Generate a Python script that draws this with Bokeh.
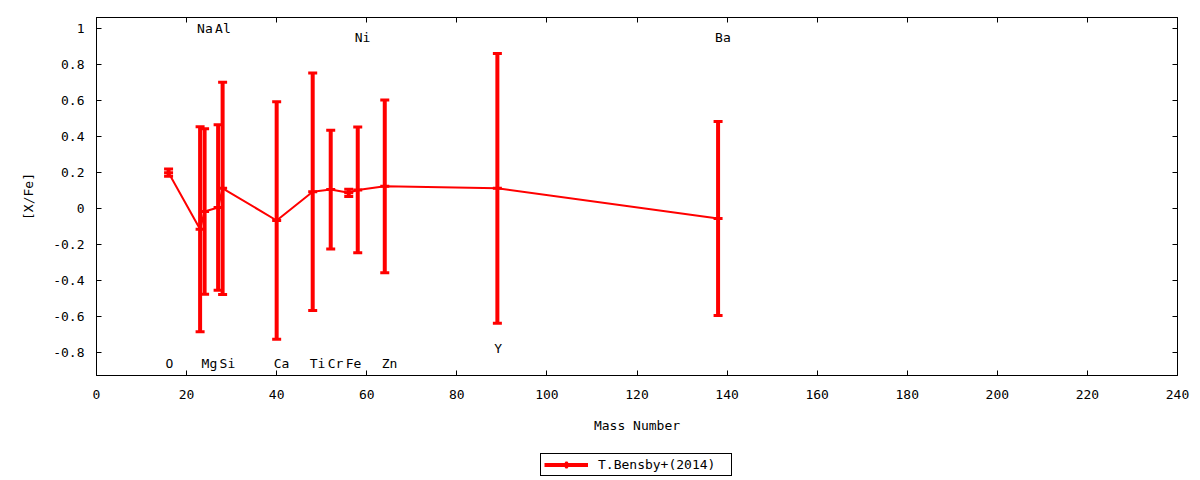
import math
from bokeh.plotting import figure
from bokeh.layouts import column
from bokeh.models import (Range1d, LinearAxis, FixedTicker, CustomJSTickFormatter,
                          Legend, LegendItem, ColumnDataSource)
from bokeh.core.properties import value
from bokeh.embed import file_html
from bokeh.resources import INLINE

# ---- data ----
elements = ["O", "Na", "Mg", "Al", "Si", "Ca", "Ti", "Cr", "Fe", "Ni", "Zn", "Y", "Ba"]
mass_number = [16, 23, 24, 27, 28, 40, 48, 52, 56, 58, 64, 89, 138]
x_fe = [0.20, -0.115, -0.016, 0.006, 0.113, -0.066, 0.094, 0.106, 0.088, 0.104, 0.124, 0.113, -0.055]
x_fe_err = [0.02, 0.57, 0.46, 0.46, 0.59, 0.66, 0.66, 0.33, 0.02, 0.35, 0.48, 0.75, 0.54]
label_y = [-0.86, 1.0, -0.86, 1.0, -0.86, -0.86, -0.86, -0.86, -0.86, 0.95, -0.86, -0.78, 0.95]
x_ticks = [0, 20, 40, 60, 80, 100, 120, 140, 160, 180, 200, 220, 240]
y_ticks = [-0.8, -0.6, -0.4, -0.2, 0, 0.2, 0.4, 0.6, 0.8, 1.0]
series_name = "T.Bensby+(2014)"

FONT = "DejaVu Sans Mono"
FS = "13px"
RED = "#ff0000"

lower = [v - e for v, e in zip(x_fe, x_fe_err)]
upper = [v + e for v, e in zip(x_fe, x_fe_err)]
src = ColumnDataSource(dict(x=mass_number, y=x_fe, lo=lower, hi=upper))
lab = ColumnDataSource(dict(x=mass_number, y=label_y, t=elements))

p = figure(width=1192, height=435, output_backend="svg", toolbar_location=None,
           x_range=Range1d(0, 240), y_range=Range1d(-0.928, 1.063),
           frame_width=1081, frame_height=358,
           min_border_left=96, min_border_top=17, min_border_right=15, min_border_bottom=60)
p.xgrid.visible = False
p.ygrid.visible = False
p.outline_line_color = "black"
p.outline_line_width = 1
p.outline_line_alpha = 1.0
p.background_fill_color = "white"
p.border_fill_color = "white"

fmt_y = CustomJSTickFormatter(code="return String(Number(tick.toFixed(1)));")
fmt_blank = CustomJSTickFormatter(code="return '';")

def style_axis(ax, ticks):
    ax.ticker = FixedTicker(ticks=ticks)
    ax.major_tick_in = 5
    ax.major_tick_out = 0
    ax.minor_tick_line_color = None
    ax.axis_line_color = "black"
    ax.major_tick_line_color = "black"
    ax.major_label_text_font = FONT
    ax.major_label_text_font_size = FS
    ax.major_label_text_color = "black"
    ax.axis_label_text_font = FONT
    ax.axis_label_text_font_size = FS
    ax.axis_label_text_font_style = "normal"
    ax.axis_label_text_color = "black"

xa = p.xaxis[0]
style_axis(xa, x_ticks)
xa.axis_label = "Mass Number"
xa.major_label_standoff = 14
xa.axis_label_standoff = 16

ya = p.yaxis[0]
style_axis(ya, y_ticks)
ya.formatter = fmt_y
ya.axis_label = "[X/Fe]"
ya.major_label_standoff = 12
ya.axis_label_standoff = 14

top = LinearAxis(formatter=fmt_blank)
style_axis(top, x_ticks)
top.major_label_standoff = 0
p.add_layout(top, "above")
right = LinearAxis(formatter=fmt_blank)
style_axis(right, y_ticks)
right.major_label_standoff = 0
p.add_layout(right, "right")

# connecting line
p.line("x", "y", source=src, line_color=RED, line_width=2)
# error bars
p.segment(x0="x", y0="lo", x1="x", y1="hi", source=src, line_color=RED, line_width=4)
p.scatter("x", "lo", source=src, marker="dash", size=9, line_color=RED, line_width=3)
p.scatter("x", "hi", source=src, marker="dash", size=9, line_color=RED, line_width=3)
p.scatter("x", "y", source=src, marker="dash", size=9, line_color=RED, line_width=3)

# element labels
p.text("x", "y", text="t", source=lab, text_font=value(FONT), text_font_size=FS,
       text_color="black", text_align="left", text_baseline="middle", x_offset=-3)

# ---- legend strip below the plot ----
q = figure(width=1192, height=42, output_backend="svg", toolbar_location=None,
           x_axis_type=None, y_axis_type=None, x_range=Range1d(0, 1), y_range=Range1d(0, 1),
           min_border=0, min_border_left=0, min_border_right=0,
           min_border_top=0, min_border_bottom=0)
q.outline_line_color = None
q.xgrid.visible = False
q.ygrid.visible = False
q.background_fill_color = "white"
q.border_fill_color = "white"
# legend sample glyphs, kept outside the strip's visible range
leg_src = ColumnDataSource(dict(x=[5, 6], y=[5, 6]))
leg_line = q.line("x", "y", source=leg_src, line_color=RED, line_width=4)
leg_tick = q.scatter("x", "y", source=leg_src, marker="plus", size=11,
                     fill_color=RED, line_color=RED, line_width=1)
legend = Legend(items=[LegendItem(label=series_name, renderers=[leg_line, leg_tick])],
                location=(444, 1), orientation="horizontal",
                border_line_color="black", border_line_width=1, border_line_alpha=1.0,
                background_fill_color="white", background_fill_alpha=1.0,
                label_text_font=FONT, label_text_font_size=FS, label_text_color="black",
                glyph_width=44, glyph_height=15, label_height=15, label_width=130,
                padding=3, spacing=0, margin=0, label_standoff=10)
q.add_layout(legend, "center")

layout = column(p, q, spacing=0)
open("out.html", "w").write(file_html(layout, INLINE))
